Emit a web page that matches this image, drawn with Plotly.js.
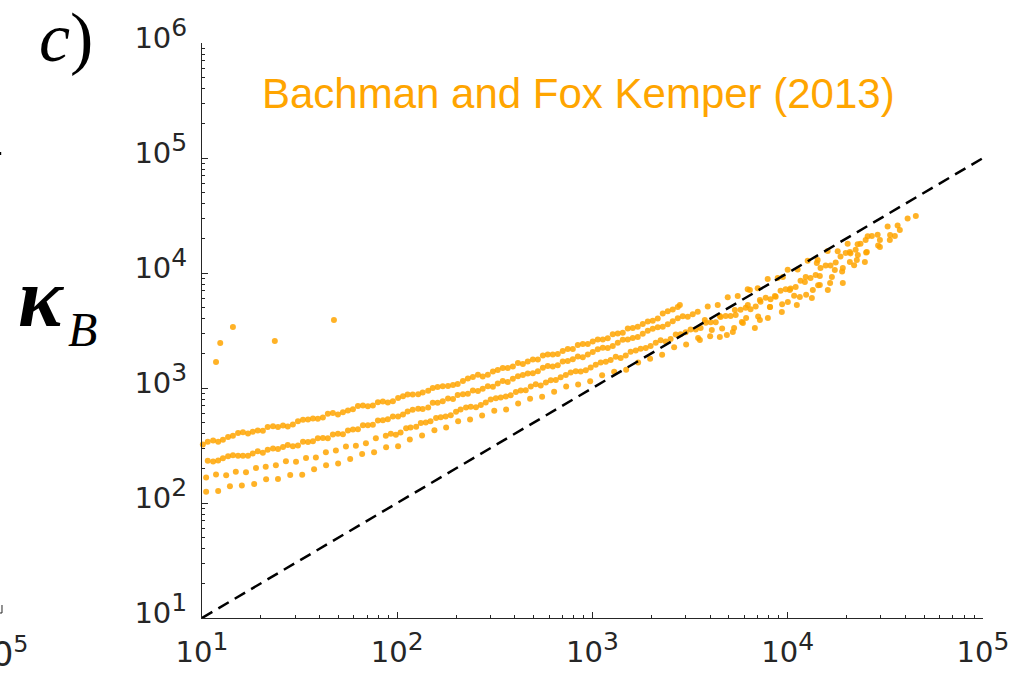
<!DOCTYPE html>
<html>
<head>
<meta charset="utf-8">
<script src="https://cdn.plot.ly/plotly-3.0.1.min.js"></script>
<style>
  html, body { margin: 0; padding: 0; background: #ffffff; }
  #chart { width: 1013px; height: 675px; }
</style>
</head>
<body>
<div id="chart"></div>
<script>
// Upper branch (ends near 3e3), two interleaved runs
const bandAx = [10.1, 11.4, 12.8, 14.4, 16.2, 18.2, 20.5, 23.1, 26.0, 29.2, 32.9, 37.0, 41.6, 46.8, 52.7, 59.3, 66.7, 75.0, 84.4, 95.0, 107, 120, 135, 152, 171, 193, 217, 244, 274, 309, 347, 391, 440, 495, 557, 626, 704, 793, 892, 1003, 1129, 1270, 1429, 1608, 1809, 2035, 2290, 2576, 2802];
const bandAy = [323, 350, 354, 384, 412, 416, 424, 464, 473, 482, 529, 544, 554, 605, 616, 653, 706, 705, 762, 767, 849, 877, 914, 1002, 1035, 1060, 1149, 1244, 1256, 1389, 1489, 1535, 1614, 1766, 1913, 1952, 2094, 2180, 2409, 2533, 2641, 2931, 3026, 3319, 3603, 3841, 4436, 4816, 5271];
const bandA2x = [10.7, 12.1, 13.6, 15.3, 17.2, 19.3, 21.7, 24.5, 27.5, 31.0, 34.9, 39.2, 44.1, 49.7, 55.9, 62.9, 70.7, 79.6, 89.5, 101, 113, 128, 144, 161, 182, 204, 230, 259, 291, 327, 368, 415, 466, 525, 590, 664, 747, 841, 946, 1064, 1197, 1347, 1516, 1705, 1919, 2159, 2429, 2733];
const bandA2y = [341, 341, 374, 406, 402, 428, 459, 459, 463, 513, 531, 541, 596, 589, 637, 696, 695, 751, 749, 819, 880, 882, 948, 1019, 1042, 1082, 1208, 1307, 1307, 1431, 1490, 1646, 1697, 1766, 1952, 1971, 2180, 2361, 2410, 2638, 2714, 2979, 3298, 3407, 3789, 4026, 4646, 5065];

// Second branch (runs out to ~4.5e4)
const bandBx = [10.7, 12.1, 13.6, 15.3, 17.2, 19.3, 21.7, 24.5, 27.5, 31.0, 34.9, 39.2, 44.1, 49.7, 55.9, 62.9, 70.7, 79.6, 89.5, 101, 113, 128, 144, 161, 182, 204, 230, 259, 291, 327, 368, 415, 466, 525, 590, 664, 747, 841, 946, 1064, 1197, 1347, 1516, 1705, 1919, 2159, 2429, 2733, 3075, 3459, 3892, 4379, 4927, 5543, 6236, 7016, 7894, 8882, 9993, 11240, 12650, 14230, 16010, 18020, 20270, 22800, 25660, 28870, 32480, 36540, 41110, 45290];
const bandBy = [233, 234, 255, 257, 257, 282, 290, 295, 320, 317, 339, 365, 366, 401, 427, 437, 475, 521, 535, 564, 626, 661, 677, 744, 809, 871, 892, 942, 1035, 1092, 1130, 1267, 1337, 1398, 1550, 1576, 1721, 1879, 1952, 2174, 2229, 2478, 2647, 2770, 3144, 3372, 3581, 4037, 4161, 4600, 5104, 5280, 6158, 6311, 7215, 7374, 8879, 9030, 10658, 10718, 12767, 12944, 15546, 15473, 17938, 17752, 20850, 21493, 25362, 25885, 29785, 31322];
const bandB2x = [11.4, 12.8, 14.4, 16.2, 18.2, 20.5, 23.1, 26.0, 29.2, 32.9, 37.0, 41.6, 46.8, 52.7, 59.3, 66.7, 75.0, 84.4, 95.0, 107, 120, 135, 152, 171, 193, 217, 244, 274, 309, 347, 391, 440, 495, 557, 626, 704, 793, 892, 1003, 1129, 1270, 1429, 1608, 1809, 2035, 2290, 2576, 2898, 3261];
const bandB2y = [230, 245, 260, 258, 270, 273, 298, 307, 311, 341, 345, 367, 395, 396, 436, 474, 480, 523, 564, 589, 647, 656, 743, 768, 803, 882, 950, 983, 1026, 1151, 1203, 1296, 1341, 1502, 1540, 1697, 1781, 1850, 2061, 2235, 2315, 2627, 2723, 2967, 3272, 3406, 3804, 4203, 4377];

// Third branch
const bandCx = [10.5, 11.8, 13.3, 14.9, 16.8, 18.9, 21.2, 23.9, 26.9, 30.3, 34.1, 38.3, 43.1, 48.5, 54.6, 61.4, 69.1, 77.7, 87.4, 98.4, 111, 125, 140, 158, 177, 200, 225, 253, 284, 320, 360, 405, 455, 512, 577, 649, 730, 821, 924, 1039, 1170, 1316, 1480, 1666, 1874, 2108, 2372, 2669, 3002, 3378, 3801, 4277, 4811, 5413, 6091, 6852, 7710, 8674, 9759, 10980, 12360, 13900, 15640, 17600, 19800, 22270, 25060, 26960];
const bandCy = [167, 177, 174, 187, 185, 202, 207, 213, 231, 228, 246, 249, 276, 286, 310, 315, 331, 366, 385, 393, 446, 461, 500, 549, 566, 623, 678, 681, 748, 814, 843, 921, 957, 1076, 1119, 1174, 1295, 1400, 1425, 1589, 1690, 1872, 1914, 2120, 2232, 2478, 2542, 2913, 3051, 3227, 3695, 3727, 4228, 4303, 4991, 5124, 6094, 6210, 7232, 7553, 9240, 9626, 11640, 12369, 14916, 15913, 19333, 20991];
const bandC2x = [92.7, 104, 117, 132, 148, 167, 188, 211, 238, 268, 301, 339, 381, 429, 483, 543, 611, 687, 773, 870, 979, 1101, 1239, 1394, 1568, 1764, 1985, 2233, 2512, 2827, 3180, 3578, 4026, 4529, 5096, 5733, 6450, 7257, 8165, 9186, 10335, 11628, 13083, 14720, 16561, 18633, 20963, 23586];
const bandC2y = [401, 411, 453, 497, 514, 558, 579, 650, 687, 711, 796, 825, 864, 953, 1031, 1049, 1170, 1239, 1367, 1392, 1505, 1663, 1752, 1827, 2066, 2198, 2317, 2599, 2669, 2937, 3233, 3317, 3732, 4151, 4224, 4800, 4833, 5619, 5913, 7006, 7320, 8571, 9065, 11066, 11647, 13926, 14808, 17987];

// Lowest branch
const bandDx = [10.5, 12.1, 13.9, 16.0, 18.5, 21.3, 24.5, 28.3, 32.6, 37.5, 43.2, 49.8, 57.4, 66.1, 76.1, 87.7, 101, 116, 134, 155, 178, 205, 236, 272, 314, 361, 416, 479, 552, 636, 733, 844, 973, 1120, 1291, 1487, 1713, 1973, 2273, 2619, 3017, 3475, 4004, 4612, 5313, 6121, 7051, 8123, 9358, 10780, 12420, 14310, 16480, 18990, 21870, 25200, 29030, 33440, 37500];
const bandDy = [125, 127, 140, 142, 146, 161, 162, 175, 176, 197, 213, 221, 241, 267, 276, 306, 312, 356, 386, 430, 454, 515, 533, 578, 633, 650, 735, 806, 840, 929, 1032, 1073, 1146, 1289, 1384, 1439, 1664, 1799, 1948, 2263, 2393, 2716, 2822, 3291, 3325, 4058, 4184, 5052, 5356, 6345, 6457, 7818, 8202, 10301, 11694, 15074, 17341, 21411, 23671];

// Scattered points around the crossing with the 1:1 line
const cloudX = [3760, 4083, 4489, 4877, 5359, 5821, 6244, 6786, 7200, 7909, 8594, 9326, 10250, 11130, 12240, 13290, 14600, 16040, 17420, 19140, 20800, 22850, 24830, 29650, 35360,
                3547, 4489, 5233, 5893, 7200, 8099, 10010, 11530, 13440, 14600, 16830, 19140, 22580, 25410, 29650, 33330, 6399, 9440, 14090, 20800];
const cloudY = [3904, 3195, 4229, 2891, 4769, 3751, 5271, 3326, 5827, 4063, 6313, 4582, 7118, 5271, 8354, 6064, 9422, 7118, 10625, 8189, 12469, 14343, 12469, 19368, 20991,
                2615, 2778, 3070, 3676, 3904, 5065, 5598, 6187, 7118, 7868, 9236, 11060, 12980, 15235, 16833, 19368, 7118, 9236, 12220, 15235];

// Isolated high values at small x
const outlierX = [11.8, 12.4, 14.4, 23.6, 47.4];
const outlierY = [1683, 2460, 3390, 2565, 3900];

// 1:1 reference line
const lineX = [10, 100000];
const lineY = [10, 100000];

// Axis decades
const xDecades = [1, 2, 3, 4, 5];
const yDecades = [1, 2, 3, 4, 5, 6];

const ORANGE = '#FFA500';
const AXIS = '#262626';

function decadeTicks(exps) {
  return {
    vals: exps.map(e => Math.pow(10, e)),
    text: exps.map(e => '10<sup><span style="font-size:25px">' + e + '</span></sup>')
  };
}
function minorTicks(exps) {
  const out = [];
  for (let i = 0; i < exps.length - 1; i++) {
    for (let m = 2; m <= 9; m++) out.push(m * Math.pow(10, exps[i]));
  }
  return out;
}

const xt = decadeTicks(xDecades);
const yt = decadeTicks(yDecades);

const marker = { color: ORANGE, size: 6, opacity: 0.85, line: { width: 0 } };
function pts(x, y) {
  return { x: x, y: y, type: 'scatter', mode: 'markers', marker: marker, hoverinfo: 'skip', cliponaxis: false };
}

const traces = [
  pts(bandAx, bandAy),
  pts(bandA2x, bandA2y),
  pts(bandBx, bandBy),
  pts(bandB2x, bandB2y),
  pts(bandCx, bandCy),
  pts(bandC2x, bandC2y),
  pts(bandDx, bandDy),
  pts(cloudX, cloudY),
  pts(outlierX, outlierY),
  {
    x: lineX, y: lineY, type: 'scatter', mode: 'lines',
    line: { color: '#000000', width: 2.5, dash: '12px,7px' }, hoverinfo: 'skip'
  }
];

const axisCommon = {
  type: 'log',
  showgrid: false,
  zeroline: false,
  showline: true,
  linecolor: AXIS,
  linewidth: 1,
  mirror: false,
  ticks: 'inside',
  ticklen: 6,
  tickwidth: 1,
  tickcolor: AXIS,
  tickmode: 'array',
  tickfont: { family: 'DejaVu Sans', size: 29, color: AXIS },
  ticklabelstandoff: 8
};

const layout = {
  width: 1013,
  height: 675,
  margin: { l: 202, r: 30, t: 43, b: 57 },
  paper_bgcolor: '#ffffff',
  plot_bgcolor: '#ffffff',
  showlegend: false,
  xaxis: Object.assign({}, axisCommon, {
    range: [1, 5],
    tickvals: xt.vals,
    ticktext: xt.text,
    minor: { tickmode: 'array', tickvals: minorTicks(xDecades), ticks: 'inside', ticklen: 3, tickwidth: 1, tickcolor: AXIS, showgrid: false }
  }),
  yaxis: Object.assign({}, axisCommon, {
    range: [1, 6],
    tickvals: yt.vals,
    ticktext: yt.text,
    ticklabelshift: -5,
    minor: { tickmode: 'array', tickvals: minorTicks(yDecades), ticks: 'inside', ticklen: 3, tickwidth: 1, tickcolor: AXIS, showgrid: false }
  }),
  annotations: [
    {
      text: 'Bachman and Fox Kemper (2013)', xref: 'paper', yref: 'paper',
      x: 0.4821, y: 0.9125, xanchor: 'center', yanchor: 'middle', showarrow: false,
      font: { family: 'Liberation Sans', size: 42, color: ORANGE }
    },
    {
      text: '<i>c</i>)', xref: 'paper', yref: 'paper',
      x: -0.1741, y: 1.0104, xanchor: 'center', yanchor: 'middle', showarrow: false,
      font: { family: 'Liberation Serif', size: 70, color: '#000000' }
    },
    {
      text: '<b><i>κ</i></b>', xref: 'paper', yref: 'paper',
      x: -0.2049, y: 0.558, xanchor: 'center', yanchor: 'middle', showarrow: false,
      font: { family: 'Liberation Serif', size: 84, color: '#000000' }
    },
    {
      text: '<i>B</i>', xref: 'paper', yref: 'paper',
      x: -0.1536, y: 0.501, xanchor: 'center', yanchor: 'middle', showarrow: false,
      font: { family: 'Liberation Serif', size: 48, color: '#000000' }
    },
    {
      text: '10<sup>5</sup>', xref: 'paper', yref: 'paper',
      x: -0.2202, y: -0.0591, xanchor: 'right', yanchor: 'middle', showarrow: false,
      font: { family: 'DejaVu Sans', size: 34, color: AXIS }
    }
  ],
  shapes: [
    // edge of the neighbouring panel's axes
    { type: 'line', xref: 'paper', yref: 'paper', x0: -0.2561, x1: -0.2561, y0: 0.0087, y1: 0.0226, line: { color: AXIS, width: 1 } },
    { type: 'line', xref: 'paper', yref: 'paper', x0: -0.2600, x1: -0.2561, y0: 0.0087, y1: 0.0087, line: { color: AXIS, width: 1 } },
    { type: 'rect', xref: 'paper', yref: 'paper', x0: -0.2600, x1: -0.2571, y0: 0.8051, y1: 0.8105, fillcolor: '#000000', line: { width: 0 } }
  ]
};

Plotly.newPlot('chart', traces, layout, { displayModeBar: false, staticPlot: true });
</script>
</body>
</html>
